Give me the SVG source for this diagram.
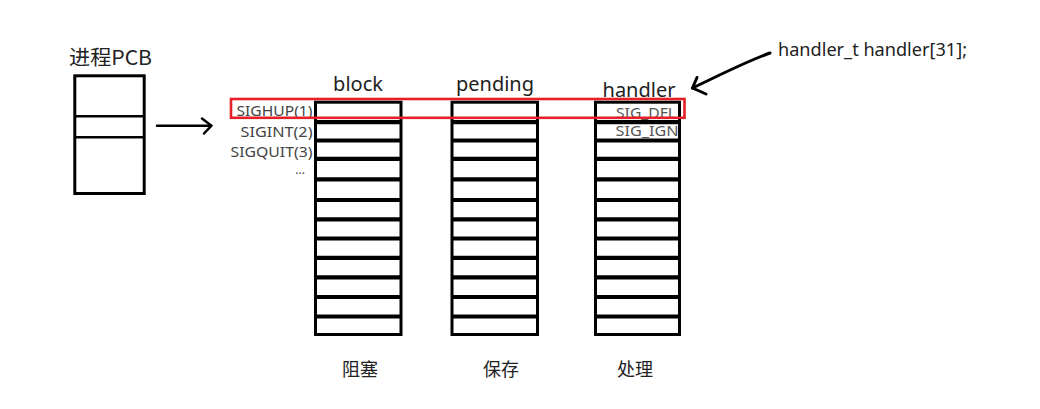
<svg xmlns="http://www.w3.org/2000/svg" width="1040" height="409" viewBox="0 0 1040 409">
  <style>
    .frame { fill: #fff; stroke: #000; stroke-width: 3; }
    .sep { fill: none; stroke: #000; stroke-width: 4.2; }
    .pcbsep { fill: none; stroke: #000; stroke-width: 2.6; }
    .title { font-family: "Noto Sans", "Open Sans", sans-serif; font-size: 20px; fill: #222; }
    .sig { font-family: "Noto Sans", "Open Sans", sans-serif; font-size: 14px; fill: #444; }
    .hsig { font-family: "Noto Sans", "Open Sans", sans-serif; font-size: 13.5px; fill: #555; }
    .cn { font-family: "Noto Sans CJK SC", "Noto Sans", sans-serif; font-size: 18px; fill: #222; }
    .conn { fill: none; stroke: #000; stroke-width: 2.5; stroke-linecap: round; stroke-linejoin: round; }
    .hl { fill: none; stroke: #e52127; stroke-width: 2.6; }
  </style>
  <rect width="1040" height="409" fill="#fff"/>

  <g id="pcb">
    <text x="69" y="65" style="font-family: 'Noto Sans CJK SC', 'Noto Sans', sans-serif; font-size: 20px; fill: #222;" textLength="83" lengthAdjust="spacingAndGlyphs">进程PCB</text>
    <rect class="frame" x="74.8" y="75.8" width="69.4" height="117.7"/>
    <path class="pcbsep" d="M74.8 116.2 H144.2 M74.8 137.2 H144.2"/>
  </g>

  <g id="signal-labels">
    <text class="sig" x="312.5" y="116" text-anchor="end" textLength="76" lengthAdjust="spacingAndGlyphs">SIGHUP(1)</text>
    <text class="sig" x="312.5" y="136.5" text-anchor="end" textLength="72" lengthAdjust="spacingAndGlyphs">SIGINT(2)</text>
    <text class="sig" x="312.5" y="157.3" text-anchor="end" textLength="82" lengthAdjust="spacingAndGlyphs">SIGQUIT(3)</text>
    <text class="sig" x="305" y="174" text-anchor="end" style="font-size:12px">...</text>
  </g>

  <g id="block">
    <text class="title" x="358" y="90.7" text-anchor="middle">block</text>
    <rect class="frame" x="315.5" y="102.2" width="85.5" height="232.3"/>
    <path class="sep" d="M315.5 122.2 H401 M315.5 140.5 H401 M315.5 158.8 H401 M315.5 179.4 H401 M315.5 200 H401 M315.5 219.3 H401 M315.5 238.5 H401 M315.5 257.8 H401 M315.5 277.3 H401 M315.5 297 H401 M315.5 316.5 H401"/>
    <text class="cn" x="360" y="375.5" text-anchor="middle">阻塞</text>
  </g>

  <g id="pending">
    <text class="title" x="495" y="90.7" text-anchor="middle">pending</text>
    <rect class="frame" x="452" y="102.2" width="85.5" height="232.3"/>
    <path class="sep" d="M452 122.2 H537.5 M452 140.5 H537.5 M452 158.8 H537.5 M452 179.4 H537.5 M452 200 H537.5 M452 219.3 H537.5 M452 238.5 H537.5 M452 257.8 H537.5 M452 277.3 H537.5 M452 297 H537.5 M452 316.5 H537.5"/>
    <text class="cn" x="501" y="375.5" text-anchor="middle">保存</text>
  </g>

  <g id="handler">
    <text class="title" x="639" y="96.5" text-anchor="middle">handler</text>
    <rect class="frame" x="595.5" y="102.2" width="84" height="232.3"/>
    <text class="hsig" x="616" y="118" textLength="60" lengthAdjust="spacingAndGlyphs">SIG_DFL</text>
    <text class="hsig" x="615.5" y="135.7" textLength="63" lengthAdjust="spacingAndGlyphs">SIG_IGN</text>
    <path class="sep" d="M595.5 122.2 H679.5 M595.5 140.5 H679.5 M595.5 158.8 H679.5 M595.5 179.4 H679.5 M595.5 200 H679.5 M595.5 219.3 H679.5 M595.5 238.5 H679.5 M595.5 257.8 H679.5 M595.5 277.3 H679.5 M595.5 297 H679.5 M595.5 316.5 H679.5"/>
    <text class="cn" x="635" y="375.5" text-anchor="middle">处理</text>
  </g>

  <g id="highlight">
    <rect class="hl" x="231" y="99" width="453.5" height="18.8"/>
  </g>

  <g id="note">
    <text x="778" y="56" style="font-family: 'Noto Sans', 'Open Sans', sans-serif; font-size: 18px; fill: #222;" textLength="189" lengthAdjust="spacingAndGlyphs">handler_t handler[31];</text>
  </g>

  <g id="connectors">
    <path class="conn" d="M157 125.7 H211"/>
    <path class="conn" d="M202 118.5 L211.5 125.7 L204 133.5"/>
    <path class="conn" style="stroke-width:3" d="M770 53 C 745 62, 720 75, 692.5 88"/>
    <path class="conn" style="stroke-width:3" d="M697 77.5 L692.5 88 L706 94"/>
  </g>
</svg>
